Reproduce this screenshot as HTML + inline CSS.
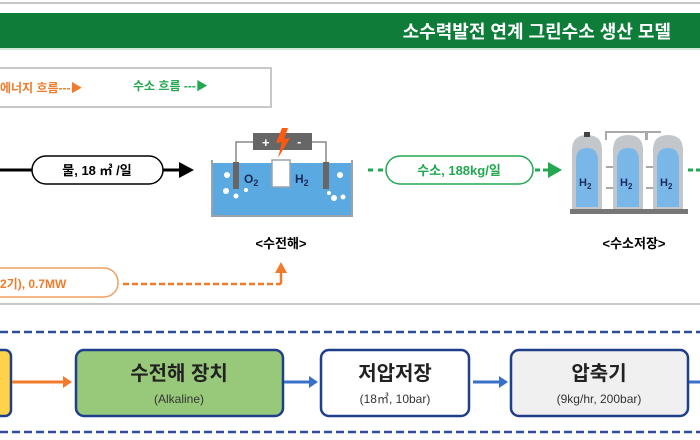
<!DOCTYPE html>
<html><head><meta charset="utf-8"><style>
html,body{margin:0;padding:0;background:#fff;}
svg{display:block;}
text{font-family:"Liberation Sans","Noto Sans CJK KR",sans-serif;}
</style></head><body>
<svg width="700" height="440" viewBox="0 0 700 440" xmlns="http://www.w3.org/2000/svg">
<defs>
<linearGradient id="tk" x1="0" x2="1"><stop offset="0" stop-color="#6fb3e8"/><stop offset="0.5" stop-color="#9fd0f5"/><stop offset="1" stop-color="#6fb3e8"/></linearGradient>
</defs>
<rect x="0" y="0" width="700" height="440" fill="#fff"/>
<line x1="0" y1="3" x2="700" y2="3" stroke="#c8c8c8" stroke-width="2"/>
<rect x="0" y="13" width="700" height="36" fill="#0e7d3a"/>
<line x1="0" y1="49" x2="700" y2="49" stroke="#cfe6d5" stroke-width="2"/>
<text x="671" y="38" font-size="18" font-weight="bold" fill="#fff" text-anchor="end">소수력발전 연계 그린수소 생산 모델</text>

<rect x="-2" y="68" width="273" height="39" fill="#fff" stroke="#c8c8c8" stroke-width="2"/>
<text x="0" y="92" font-size="12" font-weight="bold" fill="#f07b2a">에너지 흐름---▶</text>
<text x="133" y="90" font-size="12" font-weight="bold" fill="#22a850">수소 흐름 ---▶</text>

<!-- water -->
<line x1="0" y1="170" x2="32" y2="170" stroke="#000" stroke-width="3"/>
<rect x="32" y="156" width="131" height="28" rx="14" fill="#fff" stroke="#000" stroke-width="1.5"/>
<text x="97" y="175" font-size="13" font-weight="bold" text-anchor="middle">물, 18 ㎥ /일</text>
<line x1="163" y1="170" x2="180" y2="170" stroke="#000" stroke-width="3"/>
<polygon points="179,162 194,170 179,178" fill="#000"/>

<!-- electrolyzer -->
<rect x="212" y="163" width="140" height="52" fill="#5aa9e0"/>
<path d="M212 160 V216 H352 V160" fill="none" stroke="#9aa3ad" stroke-width="2"/>
<rect x="272" y="160" width="18" height="27" fill="#fff" stroke="#9aa3ad" stroke-width="1.5"/>
<path d="M236 162 V142 H254 M312 142 H326 V162" fill="none" stroke="#888" stroke-width="1.5"/>
<rect x="253" y="133" width="59" height="17" fill="#666"/>
<text x="262" y="147" font-size="13" font-weight="bold" fill="#fff">+</text>
<text x="297" y="146" font-size="13" font-weight="bold" fill="#fff">-</text>
<polygon points="282,128 276,143 282,142 278,158 290,138 284,139 288,128" fill="#ff5a10"/>
<rect x="233" y="162" width="6" height="27" fill="#666"/>
<rect x="323" y="162" width="6" height="27" fill="#666"/>
<text x="244" y="183" font-size="12" font-weight="bold" fill="#1c2a5a">O<tspan font-size="9" dy="3">2</tspan></text>
<text x="295" y="183" font-size="12" font-weight="bold" fill="#1c2a5a">H<tspan font-size="9" dy="3">2</tspan></text>
<g fill="#fff"><circle cx="227" cy="175" r="3"/><circle cx="226" cy="191" r="3"/><circle cx="236" cy="196" r="2.5"/><circle cx="246" cy="190" r="2"/><circle cx="340" cy="175" r="3"/><circle cx="334" cy="198" r="3"/><circle cx="343" cy="197" r="2.5"/><circle cx="329" cy="193" r="2"/></g>
<text x="281" y="248" font-size="13" font-weight="bold" text-anchor="middle">&lt;수전해&gt;</text>

<!-- hydrogen flow -->
<line x1="368" y1="170" x2="385" y2="170" stroke="#22a850" stroke-width="3" stroke-dasharray="5,5"/>
<rect x="386" y="156" width="147" height="28" rx="14" fill="#fff" stroke="#22a850" stroke-width="1.5"/>
<text x="459" y="175" font-size="13" font-weight="bold" fill="#22a850" text-anchor="middle">수소, 188kg/일</text>
<line x1="535" y1="170" x2="548" y2="170" stroke="#22a850" stroke-width="3" stroke-dasharray="5,3"/>
<polygon points="548,162 562,170 548,178" fill="#22a850"/>

<!-- tanks -->
<path d="M606 140 V132 H647 V140 M646 140 V132 H661 M606 188 H614 M606 167 H614 M646 188 H654 M646 167 H654" fill="none" stroke="#aaa" stroke-width="2"/>
<g>
<path d="M572 209 V150 Q572 135 587 135 Q602 135 602 150 V209 Z" fill="#c3c7cc"/>
<path d="M576 207 V160 Q576 148 587 148 Q598 148 598 160 V207 Z" fill="#79b7e8"/>
<path d="M613 209 V150 Q613 135 628 135 Q643 135 643 150 V209 Z" fill="#c3c7cc"/>
<path d="M617 207 V160 Q617 148 628 148 Q639 148 639 160 V207 Z" fill="#79b7e8"/>
<path d="M653 209 V150 Q653 135 668 135 Q683 135 683 150 V209 Z" fill="#c3c7cc"/>
<path d="M657 207 V160 Q657 148 668 148 Q679 148 679 160 V207 Z" fill="#79b7e8"/>
<rect x="584" y="132" width="6" height="5" fill="#444"/>
</g>
<rect x="570" y="209" width="118" height="5" fill="#777"/>
<text x="579" y="186" font-size="11" font-weight="bold" fill="#1c2a5a">H<tspan font-size="8" dy="3">2</tspan></text>
<text x="620" y="186" font-size="11" font-weight="bold" fill="#1c2a5a">H<tspan font-size="8" dy="3">2</tspan></text>
<text x="660" y="186" font-size="11" font-weight="bold" fill="#1c2a5a">H<tspan font-size="8" dy="3">2</tspan></text>
<line x1="688" y1="170" x2="700" y2="170" stroke="#22a850" stroke-width="3" stroke-dasharray="5,3"/>
<text x="634" y="248" font-size="13" font-weight="bold" text-anchor="middle">&lt;수소저장&gt;</text>

<!-- orange -->
<rect x="-20" y="268" width="138" height="29" rx="14" fill="#fff" stroke="#f0a060" stroke-width="1.5"/>
<text x="0" y="288" font-size="12" font-weight="bold" fill="#f07b2a">2기), 0.7MW</text>
<line x1="123" y1="284" x2="281" y2="284" stroke="#f07b2a" stroke-width="2.5" stroke-dasharray="6,3"/>
<line x1="281" y1="284" x2="281" y2="272" stroke="#f07b2a" stroke-width="2.5"/>
<polygon points="275,273 281,262 287,273" fill="#f07b2a"/>

<line x1="0" y1="304" x2="700" y2="304" stroke="#c8c8c8" stroke-width="2"/>
<line x1="0" y1="332" x2="700" y2="332" stroke="#2e4d9a" stroke-width="2.5" stroke-dasharray="8,4"/>
<line x1="0" y1="432" x2="700" y2="432" stroke="#2e4d9a" stroke-width="2.5" stroke-dasharray="8,4"/>

<!-- bottom flow -->
<rect x="-10" y="350" width="21" height="66" rx="6" fill="#ffd24a" stroke="#1f3f8a" stroke-width="2.5"/>
<line x1="12" y1="382" x2="64" y2="382" stroke="#f07b2a" stroke-width="3"/>
<polygon points="63,376 72,382 63,388" fill="#f07b2a"/>
<rect x="76" y="350" width="207" height="66" rx="8" fill="#98c97a" stroke="#1f3f8a" stroke-width="2.5"/>
<text x="179" y="380" font-size="20" font-weight="bold" text-anchor="middle" fill="#222">수전해 장치</text>
<text x="179" y="403" font-size="12" text-anchor="middle" fill="#333">(Alkaline)</text>
<line x1="284" y1="382" x2="310" y2="382" stroke="#3a6fc9" stroke-width="3"/>
<polygon points="309,376 318,382 309,388" fill="#3a6fc9"/>
<rect x="321" y="350" width="148" height="66" rx="8" fill="#fff" stroke="#1f3f8a" stroke-width="2.5"/>
<text x="395" y="380" font-size="20" font-weight="bold" text-anchor="middle" fill="#222">저압저장</text>
<text x="395" y="403" font-size="12" text-anchor="middle" fill="#333">(18㎥, 10bar)</text>
<line x1="473" y1="382" x2="500" y2="382" stroke="#3a6fc9" stroke-width="3"/>
<polygon points="499,376 508,382 499,388" fill="#3a6fc9"/>
<rect x="511" y="350" width="177" height="66" rx="8" fill="#f0f0f0" stroke="#1f3f8a" stroke-width="2.5"/>
<text x="599" y="380" font-size="20" font-weight="bold" text-anchor="middle" fill="#222">압축기</text>
<text x="599" y="403" font-size="12" text-anchor="middle" fill="#333">(9kg/hr, 200bar)</text>
<line x1="689" y1="382" x2="700" y2="382" stroke="#3a6fc9" stroke-width="3"/>
</svg>
</body></html>
